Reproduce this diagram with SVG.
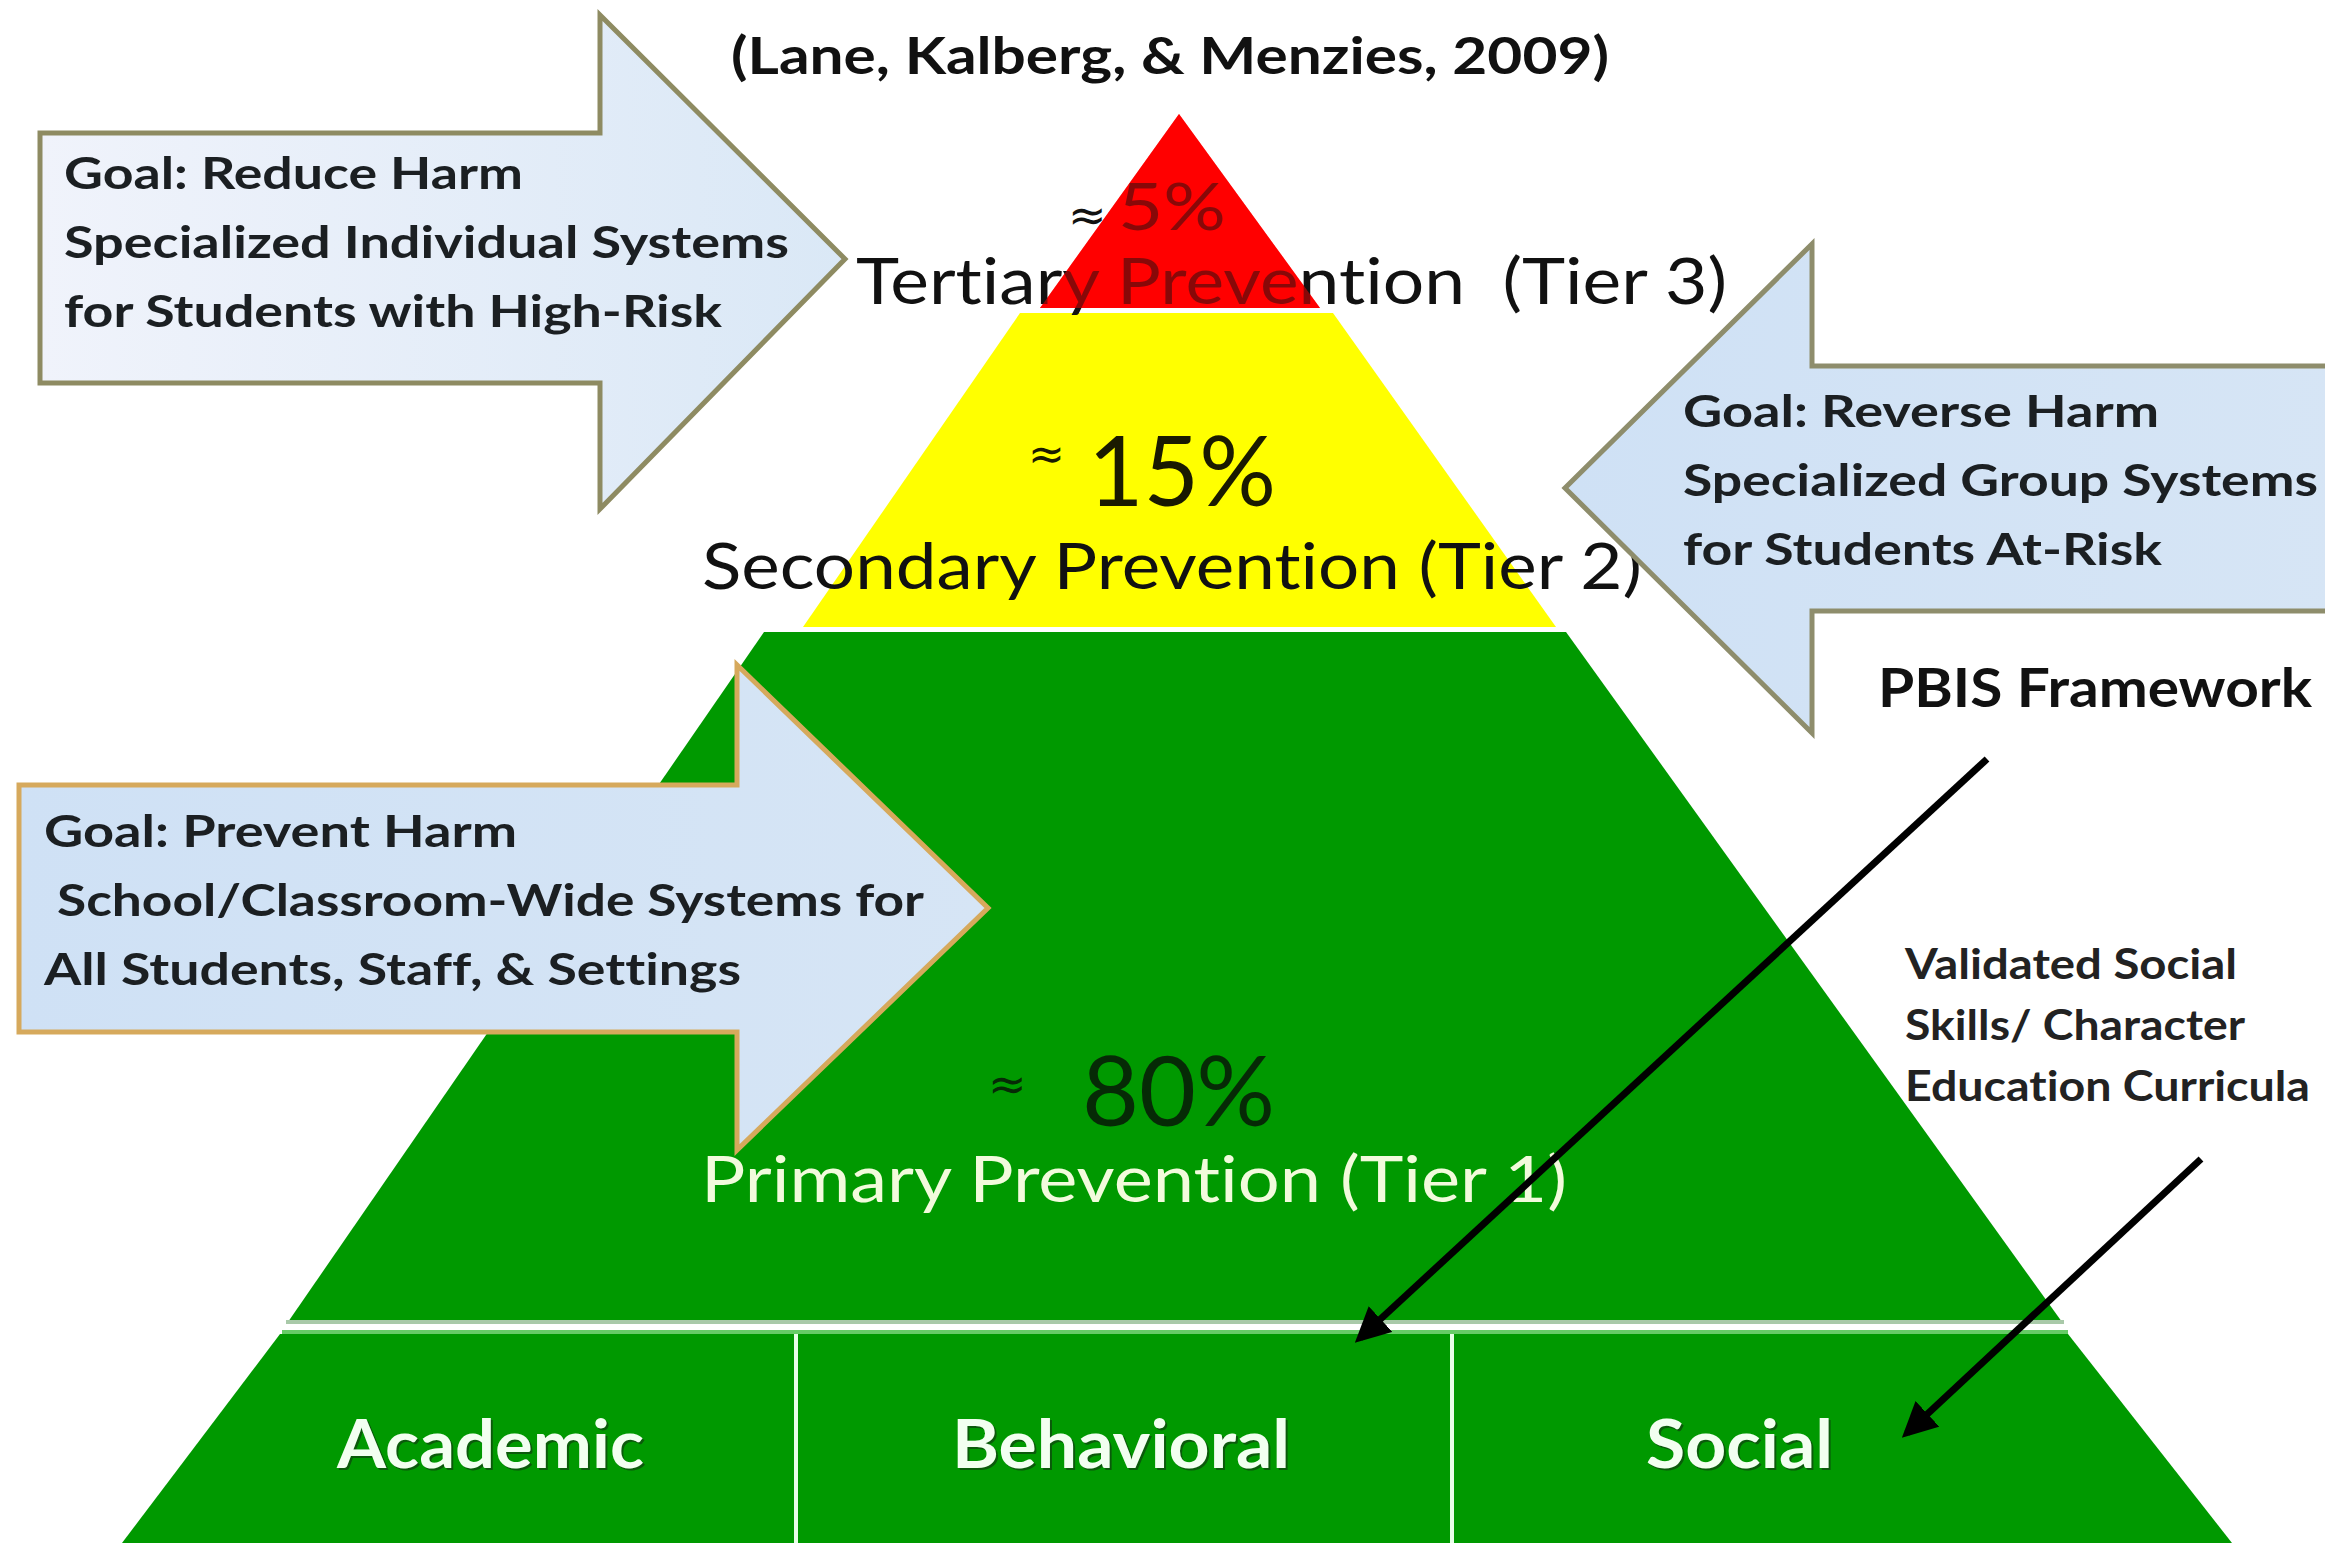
<svg xmlns="http://www.w3.org/2000/svg" width="2325" height="1543" viewBox="0 0 2325 1543">
  <defs>
    <style>
      text { font-variant-ligatures: none; }
      .b { font-family: Lato, "Liberation Sans", sans-serif; font-weight: bold; }
      .r { font-family: Lato, "Liberation Sans", sans-serif; font-weight: normal; }
      .approx { font-family: "DejaVu Sans", sans-serif; font-weight: normal; }
      .goal { font-size: 44px; fill: #1b1f22; }
      .tier { font-size: 64px; fill: #111111; }
      .base { font-size: 66px; fill: #f2fff0; }
      .shadow { font-size: 66px; fill: #0b5a0b; }
      .conn { stroke: #000000; stroke-width: 7; fill: none; marker-end: url(#ah); }
    </style>
    <linearGradient id="g1" x1="0" y1="0" x2="1" y2="0">
      <stop offset="0" stop-color="#f0f3fb"/>
      <stop offset="1" stop-color="#dae8f6"/>
    </linearGradient>
    <linearGradient id="g2" x1="0" y1="0" x2="1" y2="0">
      <stop offset="0" stop-color="#cfe1f5"/>
      <stop offset="1" stop-color="#d6e5f5"/>
    </linearGradient>
    <marker id="ah" viewBox="0 0 10 10" refX="8" refY="5" markerWidth="5" markerHeight="5" orient="auto">
      <path d="M0,0 L10,5 L0,10 z" fill="#000000"/>
    </marker>
  </defs>

  <rect x="0" y="0" width="2325" height="1543" fill="#ffffff"/>

  <g id="citation">
    <text class="b" x="731" y="74" font-size="52" fill="#111111" textLength="878" lengthAdjust="spacingAndGlyphs">(Lane, Kalberg, &amp; Menzies, 2009)</text>
  </g>

  <g id="tier1-primary">
    <polygon points="764,632 1566,632 2062,1322 288,1322" fill="#009900"/>
    <rect x="286" y="1320" width="1778" height="4" fill="#a9c9a9"/>
    <rect x="284" y="1324" width="1782" height="6" fill="#ffffff"/>
    <rect x="282" y="1330" width="1786" height="4" fill="#66cc66"/>
    <text class="r" x="1082" y="1126" font-size="96" fill="#062a06" textLength="193" lengthAdjust="spacingAndGlyphs">80%</text>
    <text class="approx" x="988" y="1100" font-size="46" fill="#062a06">≈</text>
    <text class="r" x="701" y="1202" font-size="64" fill="#f2fbdc" textLength="866" lengthAdjust="spacingAndGlyphs">Primary Prevention (Tier 1)</text>
  </g>

  <g id="base-row">
    <polygon points="280,1334 2068,1334 2232,1543 122,1543" fill="#009900"/>
    <rect x="794" y="1334" width="4" height="209" fill="#e8ffe8"/>
    <rect x="1450" y="1334" width="4" height="209" fill="#e8ffe8"/>
    <g id="cell-academic">
      <text class="b shadow" x="339" y="1470" textLength="307" lengthAdjust="spacingAndGlyphs">Academic</text>
      <text class="b base" x="337" y="1468" textLength="307" lengthAdjust="spacingAndGlyphs">Academic</text>
    </g>
    <g id="cell-behavioral">
      <text class="b shadow" x="954" y="1470" textLength="338" lengthAdjust="spacingAndGlyphs">Behavioral</text>
      <text class="b base" x="952" y="1468" textLength="338" lengthAdjust="spacingAndGlyphs">Behavioral</text>
    </g>
    <g id="cell-social">
      <text class="b shadow" x="1648" y="1470" textLength="187" lengthAdjust="spacingAndGlyphs">Social</text>
      <text class="b base" x="1646" y="1468" textLength="187" lengthAdjust="spacingAndGlyphs">Social</text>
    </g>
  </g>

  <g id="tier2-secondary">
    <polygon points="1020,313 1333,313 1556,627 803,627" fill="#ffff00"/>
    <text class="approx" x="1028" y="469" font-size="44" fill="#1a1a00">≈</text>
    <text class="r" x="1088" y="506" font-size="96" fill="#1a1a00" textLength="188" lengthAdjust="spacingAndGlyphs">15%</text>
    <text class="r tier" x="702" y="589" textLength="940" lengthAdjust="spacingAndGlyphs">Secondary Prevention (Tier 2)</text>
  </g>

  <g id="tier3-tertiary">
    <polygon points="1179,114 1320,308 1040,308" fill="#ff0000"/>
    <text class="approx" x="1068" y="231" font-size="46" fill="#111111">≈</text>
    <text class="r" x="1118" y="230" font-size="66" fill="#111111" textLength="108" lengthAdjust="spacingAndGlyphs">5%</text>
    <text class="r tier" x="856" y="304" xml:space="preserve" textLength="871" lengthAdjust="spacingAndGlyphs">Tertiary Prevention  (Tier 3)</text>
    <polygon points="1179,114 1320,308 1040,308" fill="#ff0000" opacity="0.5"/>
  </g>

  <g id="goal-reduce-harm">
    <polygon points="40,133 600,133 600,15 845,259 600,509 600,383 40,383" fill="url(#g1)" stroke="#8e8b62" stroke-width="5" stroke-linejoin="miter"/>
    <text class="b goal" x="64" y="189" textLength="459" lengthAdjust="spacingAndGlyphs">Goal: Reduce Harm</text>
    <text class="b goal" x="64" y="258" textLength="725" lengthAdjust="spacingAndGlyphs">Specialized Individual Systems</text>
    <text class="b goal" x="64" y="327" textLength="658" lengthAdjust="spacingAndGlyphs">for Students with High-Risk</text>
  </g>

  <g id="goal-reverse-harm">
    <polygon points="2340,366 1812,366 1812,244 1565,488 1812,733 1812,611 2340,611" fill="url(#g2)" stroke="#8e8d6c" stroke-width="5"/>
    <text class="b goal" x="1683" y="427" textLength="476" lengthAdjust="spacingAndGlyphs">Goal: Reverse Harm</text>
    <text class="b goal" x="1683" y="496" textLength="635" lengthAdjust="spacingAndGlyphs">Specialized Group Systems</text>
    <text class="b goal" x="1683" y="565" textLength="479" lengthAdjust="spacingAndGlyphs">for Students At-Risk</text>
  </g>

  <g id="goal-prevent-harm">
    <polygon points="19,785 737,785 737,665 988,908 737,1150 737,1032 19,1032" fill="url(#g2)" stroke="#d6a95c" stroke-width="5"/>
    <text class="b goal" x="44" y="847" textLength="473" lengthAdjust="spacingAndGlyphs">Goal: Prevent Harm</text>
    <text class="b goal" x="57" y="916" textLength="867" lengthAdjust="spacingAndGlyphs">School/Classroom-Wide Systems for</text>
    <text class="b goal" x="44" y="985" textLength="697" lengthAdjust="spacingAndGlyphs">All Students, Staff, &amp; Settings</text>
  </g>

  <g id="pbis-label">
    <text class="b" x="1878" y="707" font-size="54" fill="#111111" textLength="434" lengthAdjust="spacingAndGlyphs">PBIS Framework</text>
  </g>

  <g id="curricula-label">
    <text class="b" x="1905" y="979" font-size="42" fill="#222222" textLength="332" lengthAdjust="spacingAndGlyphs">Validated  Social</text>
    <text class="b" x="1905" y="1040" font-size="42" fill="#222222" textLength="340" lengthAdjust="spacingAndGlyphs">Skills/  Character</text>
    <text class="b" x="1905" y="1101" font-size="42" fill="#222222" textLength="405" lengthAdjust="spacingAndGlyphs">Education  Curricula</text>
  </g>

  <g id="connectors">
    <line class="conn" x1="1987" y1="759" x2="1360" y2="1338"/>
    <line class="conn" x1="2201" y1="1159" x2="1907" y2="1433"/>
  </g>
</svg>
